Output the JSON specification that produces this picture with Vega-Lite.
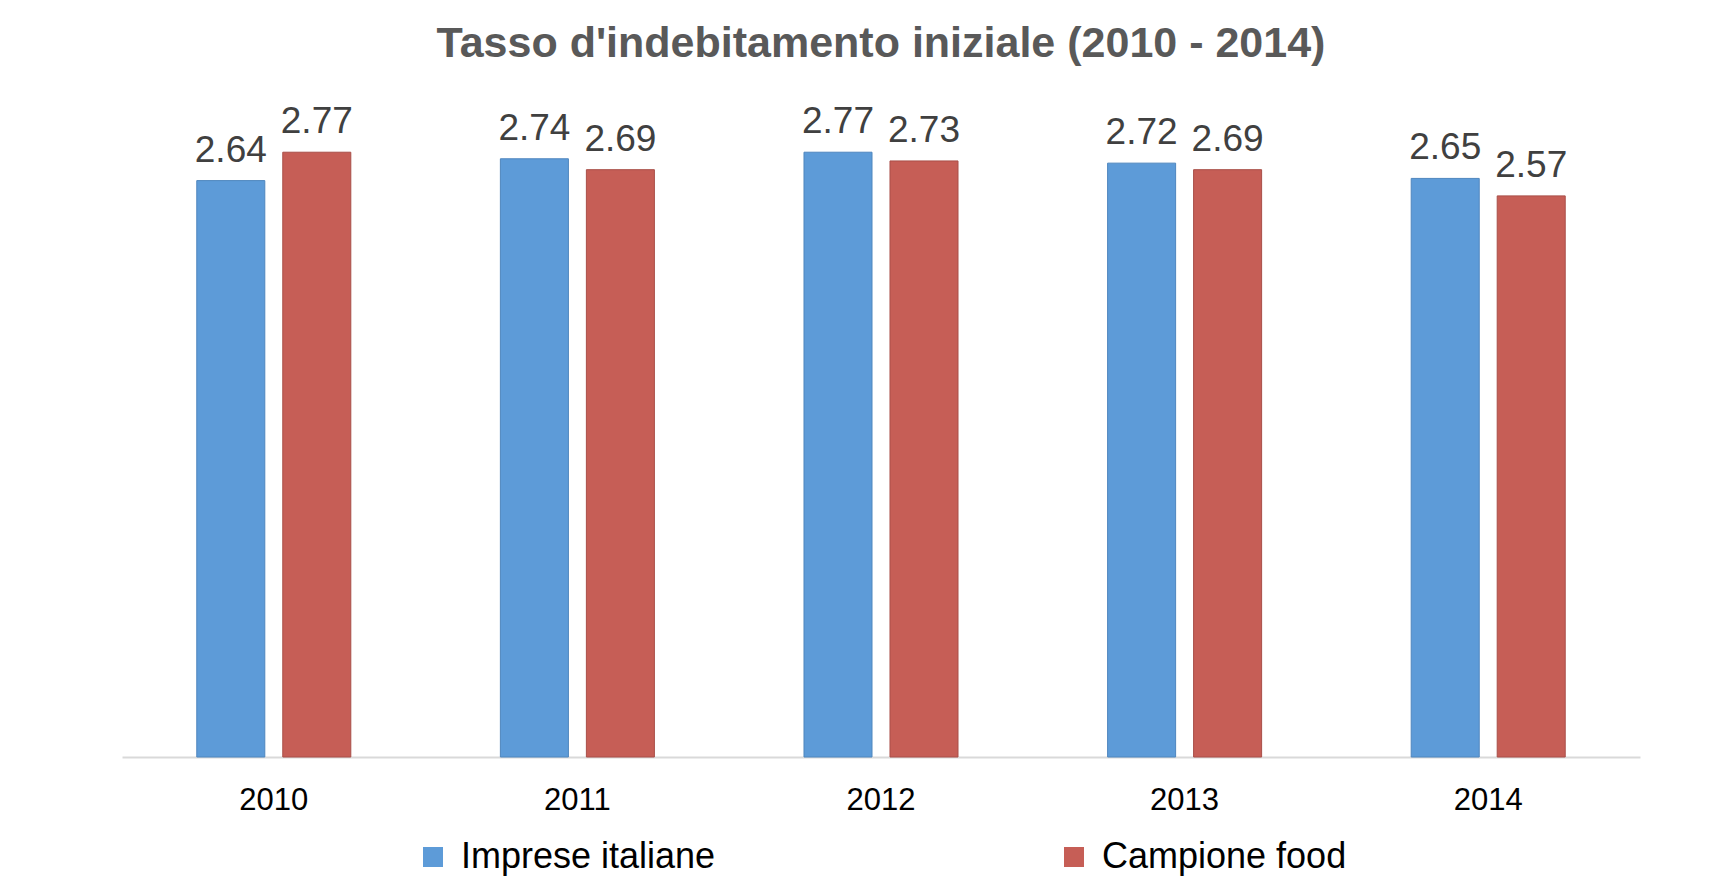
{
  "$schema": "https://vega.github.io/schema/vega-lite/v6.json",
  "width": 1518,
  "height": 655,
  "autosize": {"type": "none"},
  "padding": {"left": 122, "top": 102, "right": 93, "bottom": 128},
  "background": "white",
  "config": {
    "view": {"stroke": null},
    "legend": {"layout": {"bottom": {"anchor": "middle"}}}
  },
  "title": {
    "text": "Tasso d'indebitamento iniziale (2010 - 2014)",
    "font": "Liberation Sans",
    "fontSize": 43,
    "fontWeight": "bold",
    "color": "#595959",
    "anchor": "middle",
    "offset": 36
  },
  "data": {
    "values": [
      {"anno": "2010", "serie": "Imprese italiane", "valore": 2.64},
      {"anno": "2010", "serie": "Campione food", "valore": 2.77},
      {"anno": "2011", "serie": "Imprese italiane", "valore": 2.74},
      {"anno": "2011", "serie": "Campione food", "valore": 2.69},
      {"anno": "2012", "serie": "Imprese italiane", "valore": 2.77},
      {"anno": "2012", "serie": "Campione food", "valore": 2.73},
      {"anno": "2013", "serie": "Imprese italiane", "valore": 2.72},
      {"anno": "2013", "serie": "Campione food", "valore": 2.69},
      {"anno": "2014", "serie": "Imprese italiane", "valore": 2.65},
      {"anno": "2014", "serie": "Campione food", "valore": 2.57}
    ]
  },
  "encoding": {
    "x": {
      "field": "anno",
      "type": "nominal",
      "scale": {"paddingInner": 0.4335, "paddingOuter": 0.2167},
      "axis": {
        "title": null,
        "labelAngle": 0,
        "labelFont": "Liberation Sans",
        "labelFontSize": 31,
        "labelColor": "#000000",
        "labelPadding": 28,
        "ticks": false,
        "domainColor": "#d9d9d9",
        "domainWidth": 2,
        "grid": false
      }
    },
    "xOffset": {
      "field": "serie",
      "type": "nominal",
      "sort": ["Imprese italiane", "Campione food"],
      "scale": {"paddingInner": 0.209, "paddingOuter": 0.1045}
    },
    "y": {
      "field": "valore",
      "type": "quantitative",
      "scale": {"domain": [0, 3], "nice": false},
      "axis": null
    }
  },
  "layer": [
    {
      "mark": {"type": "bar", "strokeWidth": 1},
      "encoding": {
        "color": {
          "field": "serie",
          "type": "nominal",
          "sort": ["Imprese italiane", "Campione food"],
          "scale": {"domain": ["Imprese italiane", "Campione food"], "range": ["#5D9BD8", "#C65E56"]},
          "legend": {
            "title": null,
            "orient": "bottom",
            "direction": "horizontal",
            "symbolType": "square",
            "symbolSize": 400,
            "symbolStrokeWidth": 0,
            "labelFont": "Liberation Sans",
            "labelFontSize": 36,
            "labelColor": "#000000",
            "labelOffset": 10,
            "columnPadding": 340,
            "offset": 24,
            "labelLimit": 600
          }
        },
        "stroke": {
          "field": "serie",
          "type": "nominal",
          "scale": {"domain": ["Imprese italiane", "Campione food"], "range": ["#4F86BE", "#A94F48"]},
          "legend": null
        }
      }
    },
    {
      "mark": {
        "type": "text",
        "baseline": "alphabetic",
        "dy": -19,
        "font": "Liberation Sans",
        "fontSize": 37,
        "color": "#404040"
      },
      "encoding": {
        "text": {"field": "valore", "type": "quantitative", "format": ".2f"}
      }
    }
  ]
}
